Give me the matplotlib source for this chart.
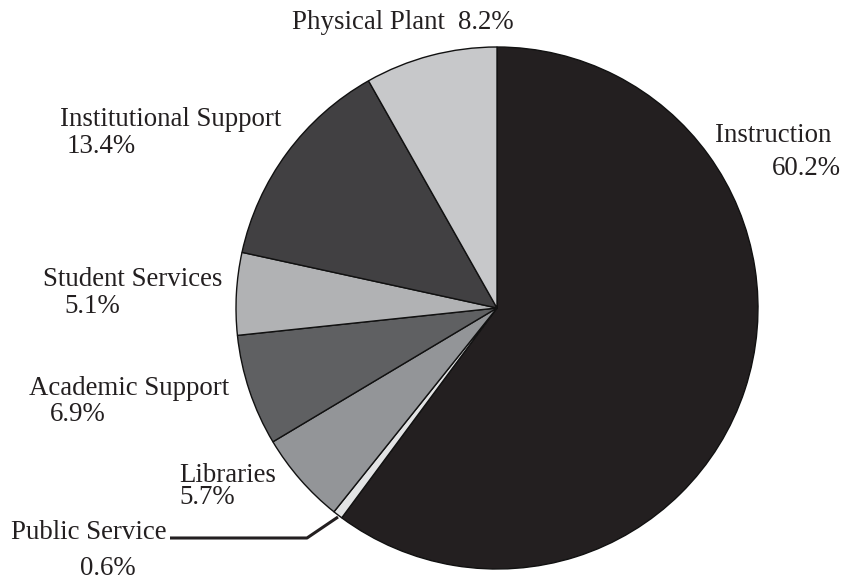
import matplotlib
matplotlib.use("Agg")
import matplotlib.pyplot as plt

categories = ["Instruction", "Public Service", "Libraries", "Academic Support",
              "Student Services", "Institutional Support", "Physical Plant"]
values = [60.2, 0.6, 5.7, 6.9, 5.1, 13.4, 8.2]
pct_labels = ["60.2%", "0.6%", "5.7%", "6.9%", "5.1%", "13.4%", "8.2%"]
colors = ["#231f20", "#e2e3e4", "#939598", "#5f6062", "#b1b2b4", "#414042", "#c7c8ca"]

W, H = 844, 581
fig = plt.figure(figsize=(W / 100, H / 100), dpi=100)
ax = fig.add_axes([0, 0, 1, 1])

cx, cy, r = 497, H - 308, 261
ax.pie(values, colors=colors, startangle=90, counterclock=False,
       center=(cx, cy), radius=r, frame=True,
       wedgeprops=dict(edgecolor="#111111", linewidth=1.0))
ax.set_xlim(0, W)
ax.set_ylim(0, H)
ax.set_aspect("equal")
ax.axis("off")

font = dict(family="Liberation Serif", fontsize=19.4, color="#231f20")

def T(x, y, s, ha="left"):
    ax.text(x, H - y, s, ha=ha, va="baseline", **font)

T(292, 29, categories[6])
T(458, 29, pct_labels[6])
T(715, 142, categories[0])
T(841, 175, pct_labels[0], ha="right")
T(60, 126, categories[5])
T(67, 153, pct_labels[5])
T(43, 286, categories[4])
T(64, 313, pct_labels[4])
T(29, 395, categories[3])
T(50, 421, pct_labels[3])
T(179, 482, categories[2])
T(179, 504, pct_labels[2])
T(11, 539, categories[1])
T(80, 575, pct_labels[1])

ax.plot([170, 307, 338], [H - 538, H - 538, H - 517], color="#231f20", lw=2.2,
        solid_capstyle="butt")

fig.savefig("out.png", dpi=100)
